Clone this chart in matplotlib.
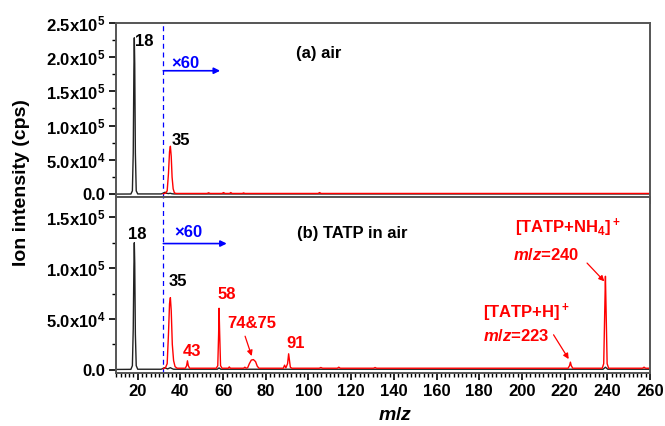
import matplotlib
matplotlib.use('Agg')
import matplotlib.pyplot as plt
from matplotlib.ticker import MultipleLocator, FuncFormatter

plt.rcParams['font.family'] = ['Liberation Sans', 'DejaVu Sans']
plt.rcParams['font.weight'] = 'bold'
plt.rcParams['mathtext.fontset'] = 'custom'
plt.rcParams['mathtext.rm'] = 'Liberation Sans:bold'
plt.rcParams['mathtext.bf'] = 'Liberation Sans:bold'
plt.rcParams['mathtext.it'] = 'Liberation Sans:italic:bold'

# (a) air - black trace (x1)
air_black_mz = [10, 16.8, 17.5, 17.9, 18.2, 18.4, 18.6, 18.9, 19.3, 20.0, 31.0, 32.2,
                32.8, 33.4, 34.5, 35.2, 36.0, 37.0, 260]
air_black_int = [300, 400, 5000, 60000, 180000, 228000, 190000, 60000, 5000, 500, 500, 2000,
                 3000, 1500, 1000, 1500, 800, 500, 500]

# (a) air - red trace (x60)
air_red_mz = [32.0, 33.0, 33.8, 34.4, 34.9, 35.3, 35.7, 36.1, 36.6, 37.2, 38.0,
              52.5, 53.2, 53.9, 59.5, 60.2, 60.9, 63.0, 63.6, 64.2, 69.0, 69.6, 70.2,
              104.5, 105.2, 105.9, 260]
air_red_int = [800, 1500, 5000, 30000, 62000, 70000, 55000, 25000, 8000, 2000, 1200,
               1200, 2200, 1200, 1200, 2500, 1200, 1200, 2500, 1200, 1200, 2000, 1200,
               1200, 2500, 1200, 1200]

# (b) TATP in air - black trace (x1)
tatp_black_mz = [10, 16.8, 17.5, 17.9, 18.2, 18.4, 18.6, 18.9, 19.3, 20.0, 31.0, 32.5,
                 33.2, 34.0, 34.7, 35.3, 36.0, 36.8, 57.3, 58.1, 58.9, 238.0, 239.1, 240.2, 260]
tatp_black_int = [300, 400, 4000, 40000, 100000, 125000, 105000, 35000, 4000, 500, 500, 2000,
                  1500, 800, 1500, 2000, 1200, 500, 500, 1800, 500, 500, 2500, 500, 500]

# (b) TATP in air - red trace (x60)
tatp_red_mz = [32.0, 33.0, 33.8, 34.4, 34.9, 35.3, 35.7, 36.2, 36.8, 37.5, 38.5,
               42.3, 42.9, 43.3, 43.7, 44.3,
               56.8, 57.5, 57.9, 58.1, 58.4, 58.8, 59.5,
               62.4, 62.9, 63.4,
               69.6, 70.2, 70.8,
               71.5, 72.3, 73.2, 74.2, 75.2, 76.0, 76.8,
               88.2, 88.8, 89.4, 90.2, 90.7, 91.1, 91.5, 92.2,
               105.0, 105.8, 106.6, 113.5, 114.2, 114.9, 130.5, 131.2, 131.9,
               221.6, 222.3, 222.7, 223.1, 223.8,
               237.6, 238.3, 238.8, 239.1, 239.4, 239.9, 240.6,
               256.5, 257.2, 257.9, 260]
tatp_red_int = [1000, 2000, 6000, 35000, 65000, 71000, 58000, 25000, 9000, 3000, 1500,
                1500, 4000, 8800, 4000, 1500,
                1500, 4000, 35000, 60500, 35000, 4000, 1500,
                1500, 2800, 1500,
                1500, 2500, 1500,
                2000, 6000, 9500, 10000, 8000, 3500, 1500,
                1500, 4500, 1800, 6000, 15700, 9000, 2500, 1500,
                1500, 2200, 1500, 1500, 2500, 1500, 1500, 2200, 1500,
                1500, 4000, 7500, 4000, 1500,
                1500, 6000, 60000, 92000, 60000, 6000, 1500,
                1500, 2500, 1500, 1500]

x60_start = 32


def sci_fmt(v, pos):
    if v == 0:
        return '0.0'
    exp = len(str(int(abs(v)))) - 1
    return f'{v / 10 ** exp:.1f}x10$^{{{exp}}}$'


fig = plt.figure(figsize=(6.65, 4.26), dpi=100)
ax1 = fig.add_axes([0.175, 0.5375, 0.8025, 0.4092])
ax2 = fig.add_axes([0.175, 0.1237, 0.8025, 0.4138])

for ax in (ax1, ax2):
    ax.set_xlim(10, 260)
    ax.xaxis.set_major_locator(MultipleLocator(20))
    ax.xaxis.set_minor_locator(MultipleLocator(2))
    ax.yaxis.set_major_locator(MultipleLocator(50000))
    ax.yaxis.set_minor_locator(MultipleLocator(25000))
    ax.yaxis.set_major_formatter(FuncFormatter(sci_fmt))
    ax.tick_params(which='major', direction='out', length=5, width=1.2, labelsize=12, pad=3)
    ax.tick_params(which='minor', direction='out', length=3, width=1)
    for s in ax.spines.values():
        s.set_color('#555555')
        s.set_linewidth(1.4)
    ax.axvline(x60_start, color='blue', lw=0.9, ls=(0, (4, 3)))

ax1.set_ylim(-4000, 250000)
ax2.set_ylim(-3500, 170000)
ax1.tick_params(axis='x', labelbottom=False)

ax1.plot(air_black_mz, air_black_int, color='#222222', lw=1)
ax1.plot(air_red_mz, air_red_int, color='red', lw=1)
ax2.plot(tatp_black_mz, tatp_black_int, color='#222222', lw=1)
ax2.plot(tatp_red_mz, tatp_red_int, color='red', lw=1)

fs = 12
# panel (a)
ax1.text(18.7, 222000, '18', fontsize=fs, va='center', ha='left')
ax1.text(35.9, 79000, '35', fontsize=fs, va='center', ha='left')
ax1.text(104.6, 205500, '(a) air', fontsize=fs, va='center', ha='center')
ax1.annotate('', xy=(58.6, 180000), xytext=(x60_start, 180000),
             arrowprops=dict(arrowstyle='-|>', color='blue', lw=1.2, mutation_scale=9,
                             shrinkA=0, shrinkB=0))
ax1.text(35.9, 190000, '×60', fontsize=fs, color='blue', va='center', ha='left')

# panel (b)
ax2.text(19.9, 133000, '18', fontsize=fs, va='center', ha='center')
ax2.text(38.7, 87000, '35', fontsize=fs, va='center', ha='center')
ax2.text(120.7, 134500, '(b) TATP in air', fontsize=fs, va='center', ha='center')
ax2.annotate('', xy=(61.7, 124200), xytext=(x60_start, 124200),
             arrowprops=dict(arrowstyle='-|>', color='blue', lw=1.2, mutation_scale=9,
                             shrinkA=0, shrinkB=0))
ax2.text(37.0, 135000, '×60', fontsize=fs, color='blue', va='center', ha='left')

ax2.text(61.6, 73800, '58', fontsize=fs, color='red', va='center', ha='center')
ax2.text(45.6, 18000, '43', fontsize=fs, color='red', va='center', ha='center')
ax2.text(73.5, 46000, '74&75', fontsize=fs, color='red', va='center', ha='center')
ax2.text(94.2, 26300, '91', fontsize=fs, color='red', va='center', ha='center')
ax2.text(196.9, 139500, '[TATP+NH$_4$]$^+$', fontsize=fs, color='red', va='center', ha='left')
ax2.text(196.0, 113000, '$m/z$=240', fontsize=fs, color='red', va='center', ha='left')
ax2.text(181.8, 55800, '[TATP+H]$^+$', fontsize=fs, color='red', va='center', ha='left')
ax2.text(181.8, 32800, '$m/z$=223', fontsize=fs, color='red', va='center', ha='left')

red_arrow = dict(arrowstyle='-|>', color='red', lw=0.9, mutation_scale=8,
                 shrinkA=0, shrinkB=0)
ax2.annotate('', xy=(73.4, 13500), xytext=(70.3, 33000), arrowprops=red_arrow)
ax2.annotate('', xy=(238.6, 87000), xytext=(230.5, 105000), arrowprops=red_arrow)
ax2.annotate('', xy=(221.9, 10500), xytext=(214.8, 34400), arrowprops=red_arrow)

fig.text(0.033, 0.572, 'Ion intensity (cps)', rotation=90, fontsize=14,
         va='center', ha='center')
fig.text(0.595, 0.024, '$m/z$', fontsize=14, va='center', ha='center')

fig.savefig('out.png', dpi=100)
